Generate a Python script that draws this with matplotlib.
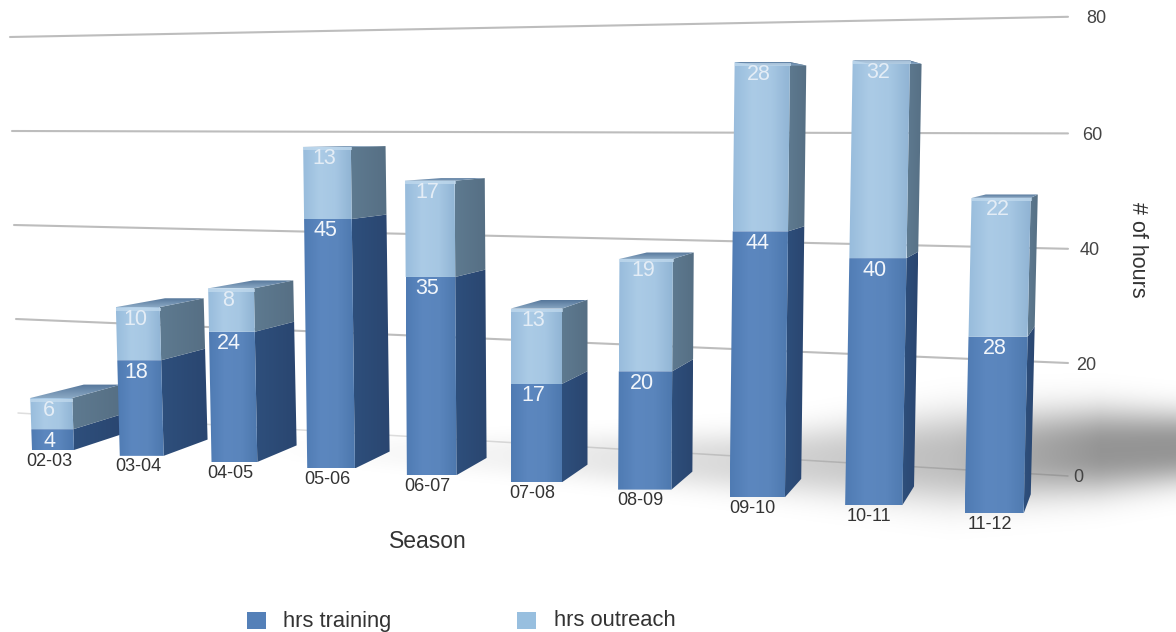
import numpy as np
import matplotlib
matplotlib.use("Agg")
import matplotlib.pyplot as plt
from matplotlib.colors import LinearSegmentedColormap
from matplotlib.patches import Polygon, Rectangle

plt.rcParams["font.family"] = "Liberation Sans"

seasons = ["02-03", "03-04", "04-05", "05-06", "06-07", "07-08", "08-09", "09-10", "10-11", "11-12"]
hrs_training = [4, 18, 24, 45, 35, 17, 20, 44, 40, 28]
hrs_outreach = [6, 10, 8, 13, 17, 13, 19, 28, 32, 22]
y_ticks = [0, 20, 40, 60, 80]


def left_x(i):
    return 32 + 85.8 * i + 1.98 * i ** 2


def front_w(i):
    return 42 + 1.9 * i


def side_w(i):
    return 48.5 - 4.6 * i


def project(i, v, across=0.0, depth=0.0):
    """Slot i, value v, position across the bar front and into the bar -> pixels."""
    scale = 5.2 + 0.11 * i + 0.0015 * i ** 2
    y = 450 + 5.7 * i + 0.15 * i ** 2 - scale * v
    x = left_x(i) + 0.035 * (i - 5) * v + across * front_w(i)
    return x + depth * side_w(i), y - depth * 0.05 * (y - 130)


def wall_y(v):
    return 476 - 5.62 * v - 0.0015 * v ** 2


def shade(ax, pts, colors, z, vertical=False):
    patch = Polygon(pts, closed=True, fc="none", ec="none", zorder=z)
    ax.add_patch(patch)
    xs, ys = zip(*pts)
    grad = np.linspace(0, 1, 64)
    grad = grad[:, None] if vertical else grad[None, :]
    cmap = LinearSegmentedColormap.from_list("f", colors)
    im = ax.imshow(grad, cmap=cmap, aspect="auto", zorder=z, interpolation="bilinear",
                   extent=(min(xs), max(xs), max(ys), min(ys)))
    im.set_clip_path(patch)


def draw_segment(ax, i, v0, v1, front, side, z):
    # side first, then the front so its edge stays clean
    shade(ax, [project(i, v0, 1), project(i, v0, 1, 1), project(i, v1, 1, 1), project(i, v1, 1)], side, z)
    shade(ax, [project(i, v0), project(i, v0, 1), project(i, v1, 1), project(i, v1)], front, z + 0.1)


fig = plt.figure(figsize=(11.76, 6.32), dpi=100)
ax = fig.add_axes([0, 0, 1, 1])
ax.axis("off")

# Grid lines, converging to the left
for v in y_ticks:
    ax.plot([18 - 0.1 * v, 1068], [413 - 4.7 * v, wall_y(v)],
            color="#dedede" if v == 0 else "#bdbdbd", lw=1.5 if v else 1.1,
            solid_capstyle="round", zorder=1)
    ax.text(1073 + 0.16 * v, wall_y(v) + 2, str(v), fontsize=13, color="#444444",
            ha="left", va="center")

# Soft floor shadow
px, py = np.meshgrid(np.arange(1176), np.arange(632))
sx = [250, 500, 750, 950, 1100, 1176]
amp = np.interp(px, sx, [0.0, 0.05, 0.16, 0.26, 0.42, 0.42])
mid = np.interp(px, sx, [447, 455, 462, 458, 450, 447])
half = np.interp(px, sx, [12, 20, 30, 46, 42, 36])
shadow = np.zeros((632, 1176, 4))
shadow[..., 3] = amp * np.exp(-np.abs((py - mid) / half) ** 2.5)
ax.imshow(shadow, extent=(0, 1176, 632, 0), aspect="auto", zorder=2, interpolation="bilinear")

train_front = ["#4f7bb3", "#5c87bf", "#5a85bc", "#4d78ae"]
train_side = ["#2e4f7c", "#2a4670"]
out_front = ["#98bcdc", "#abcbe6", "#a6c7e3", "#90b4d4"]
out_side = ["#5e7a90", "#566f84"]
top_face = ["#55769a", "#8aa8c4"]

for i, (tr, ou) in enumerate(zip(hrs_training, hrs_outreach)):
    z = 3 + i
    total = tr + ou
    draw_segment(ax, i, 0, tr, train_front, train_side, z)
    draw_segment(ax, i, tr, total, out_front, out_side, z)
    shade(ax, [project(i, total), project(i, total, 1), project(i, total, 1, 1),
               project(i, total, 0.12, 1)], top_face, z + 0.2, vertical=True)
    # bevel highlight along the front top edge
    (x0, y0), (x1, y1) = project(i, total), project(i, total, 1)
    ax.plot([x0 + 1, x1 - 1], [y0 + 1.5, y1 + 1.5], color="#c4dcef", lw=2.2, alpha=0.7, zorder=z + 0.3)

    lx, ly = project(i, tr, 0.44)
    ax.text(lx, ly + 12, str(tr), color="#f2f6fb", fontsize=15.5, ha="center", va="center", zorder=z + 0.4)
    lx, ly = project(i, total, 0.44)
    ax.text(lx, ly + 12, str(ou), color="#e4edf6", fontsize=15.5, ha="center", va="center", zorder=z + 0.4)
    bx, by = project(i, 0, 0.42)
    ax.text(bx, by + 11, seasons[i], color="#333333", fontsize=13, ha="center", va="center", zorder=z + 0.4)

ax.text(428, 542, "Season", fontsize=16.5, color="#333333", ha="center", va="center")
ax.text(1137, 250, "# of hours", fontsize=15.5, color="#333333", rotation=270, ha="center", va="center")

ax.add_patch(Rectangle((247, 612), 19, 17, fc="#5480b8", ec="none"))
ax.text(283, 621, "hrs training", fontsize=15.8, color="#333333", ha="left", va="center")
ax.add_patch(Rectangle((517, 612), 19, 17, fc="#98bfdf", ec="none"))
ax.text(554, 621, "hrs outreach", fontsize=15.8, color="#333333", ha="left", va="center")

ax.set_xlim(0, 1176)
ax.set_ylim(632, 0)
fig.savefig("out.png", dpi=100)
